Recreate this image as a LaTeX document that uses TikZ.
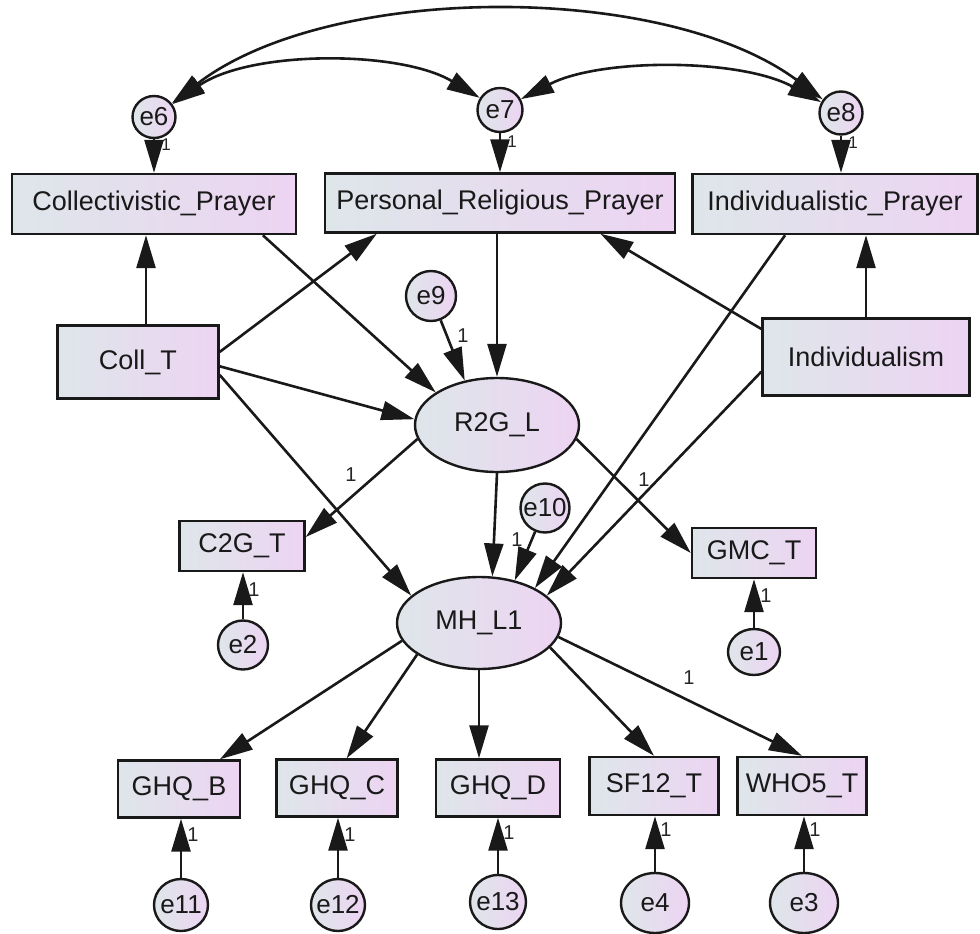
\documentclass[tikz,border=0pt]{standalone}
\usepackage{fontspec}
\setmainfont{Liberation Sans}
\usetikzlibrary{shapes.geometric,arrows.meta,calc}
\definecolor{gL}{RGB}{222,230,234}
\definecolor{gR}{RGB}{237,212,242}
\tikzset{
  fillgrad/.style={draw=black!90, line width=2.4pt, left color=gL, right color=gR, text=black!90},
  obs/.style={fillgrad, rectangle, inner sep=0pt, font=\fontsize{27}{30}\selectfont},
  lat/.style={fillgrad, ellipse, inner sep=0pt, font=\fontsize{27}{30}\selectfont},
  err/.style={fillgrad, ellipse, inner sep=-9pt, font=\fontsize{26}{30}\selectfont},
  arr/.style={line width=2.6pt, draw=black!90, -{Triangle[length=33pt,width=19pt]}},
  darr/.style={line width=2.6pt, draw=black!90, {Triangle[length=33pt,width=19pt]}-{Triangle[length=33pt,width=19pt]}},
  one/.style={font=\fontsize{20}{22}\selectfont, text=black!85, inner sep=0pt},
  ones/.style={font=\fontsize{17}{20}\selectfont, text=black!85, inner sep=0pt}
}
\begin{document}
\begin{tikzpicture}[x=1pt,y=-1pt]
\useasboundingbox (0,0) rectangle (980,934);
% observed boxes
\node[obs, minimum width=284pt, minimum height=60pt] (CP) at (154,204) {Collectivistic\_Prayer};
\node[obs, minimum width=350pt, minimum height=59pt] (PRP) at (500,203) {Personal\_Religious\_Prayer};
\node[obs, minimum width=285pt, minimum height=60pt] (IP) at (835,204) {Individualistic\_Prayer};
\node[obs, minimum width=161pt, minimum height=73pt] (CT) at (138,362) {Coll\_T};
\node[obs, minimum width=207pt, minimum height=77pt] (IND) at (866,357) {Individualism};
\node[obs, minimum width=125pt, minimum height=50pt] (C2G) at (242,546) {C2G\_T};
\node[obs, minimum width=124pt, minimum height=50pt] (GMC) at (754,553) {GMC\_T};
\node[obs, minimum width=122pt, minimum height=57pt] (GB) at (179,789) {GHQ\_B};
\node[obs, minimum width=121pt, minimum height=57pt] (GC) at (337,788) {GHQ\_C};
\node[obs, minimum width=124pt, minimum height=57pt] (GD) at (498,788) {GHQ\_D};
\node[obs, minimum width=129pt, minimum height=58pt] (SF) at (654,786) {SF12\_T};
\node[obs, minimum width=129pt, minimum height=58pt] (WHO) at (802,786) {WHO5\_T};
% latent
\node[lat, minimum width=164pt, minimum height=94pt] (R2G) at (497,425) {R2G\_L};
\node[lat, minimum width=164pt, minimum height=92pt] (MH) at (479,623) {MH\_L1};
% errors
\node[err, minimum width=43pt, minimum height=42pt] (e6) at (154,117) {e6};
\node[err, minimum width=45pt, minimum height=44pt] (e7) at (500,110) {e7};
\node[err, minimum width=43pt, minimum height=43pt] (e8) at (841,113) {e8};
\node[err, minimum width=50pt, minimum height=50pt] (e9) at (431,296) {e9};
\node[err, minimum width=49pt, minimum height=49pt] (e10) at (545,508) {e10};
\node[err, minimum width=50pt, minimum height=49pt] (e2) at (243,645) {e2};
\node[err, minimum width=52pt, minimum height=46pt] (e1) at (754,652) {e1};
\node[err, minimum width=54pt, minimum height=52pt] (e11) at (181,905) {e11};
\node[err, minimum width=54pt, minimum height=52pt] (e12) at (338,905) {e12};
\node[err, minimum width=56pt, minimum height=54pt] (e13) at (498,902) {e13};
\node[err, minimum width=68pt, minimum height=60pt] (e4) at (655,903) {e4};
\node[err, minimum width=68pt, minimum height=60pt] (e3) at (804,903) {e3};
\coordinate (cv) at (146,0);
% covariances
\draw[darr] (e6) .. controls (330,-18) and (665,-18) .. (e8);
\draw[darr] (e6) .. controls (250,50) and (400,50) .. (e7);
\draw[darr] (e7) .. controls (600,58) and (740,58) .. (e8);
% error arrows top
\draw[arr] (e6) -- (e6 |- CP.north);
\draw[arr] (e7) -- (e7 |- PRP.north);
\draw[arr] (e8) -- (e8 |- IP.north);
% structural paths
\draw[arr] (cv |- CT.north) -- (cv |- CP.south);
\draw[arr] (IND.north) -- (IND.north |- IP.south);
\draw[arr] (CT.7) -- (PRP.194);
\draw[arr] (CT.-3) -- (R2G.176);
\draw[arr] (CT.-9) -- (MH.158);
\draw[arr] (CP.-16) -- (R2G.152);
\draw[arr] (R2G.north |- PRP.south) -- (R2G.north);
\draw[arr] (e9) -- (R2G.126);
\draw[arr] (IND.165) -- (PRP.-17);
\draw[arr] (IP.212) -- (MH.32);
\draw[arr] (IND.188) -- (MH.22);
\draw[arr] (R2G.190) -- (C2G.8);
\draw[arr] (R2G.south) -- (MH.74);
\draw[arr] (R2G.-10) -- (GMC.west);
\draw[arr] (e10) -- (MH.50);
\draw[arr] (e2) -- (e2 |- C2G.south);
\draw[arr] (e1) -- (e1 |- GMC.south);
\draw[arr] (MH.193) -- (GB.36);
\draw[arr] (MH.207) -- (GC.72);
\draw[arr] (MH.south) -- (MH.south |- GD.north);
\draw[arr] (MH.-19) -- (SF.north);
\draw[arr] (MH.-10) -- (WHO.north);
\draw[arr] (e11) -- (e11 |- GB.south);
\draw[arr] (e12) -- (e12 |- GC.south);
\draw[arr] (e13) -- (e13 |- GD.south);
\draw[arr] (e4) -- (e4 |- SF.south);
\draw[arr] (e3) -- (e3 |- WHO.south);
% labels
\node[ones] (l6) at (166,145) {1};
\node[ones] (l7) at (512,142) {1};
\node[ones] (l8) at (853,143) {1};
\node[one] (l9) at (463,336) {1};
\node[one] (lc2g) at (351,475) {1};
\node[one] (lgmc) at (644,480) {1};
\node[one] (l10) at (517,540) {1};
\node[one] (l2) at (254,590) {1};
\node[one] (l1) at (766,596) {1};
\node[one] (lwho) at (689,678) {1};
\node[one] (l11) at (193,835) {1};
\node[one] (l12) at (350,835) {1};
\node[one] (l13) at (509,833) {1};
\node[one] (l4) at (666,830) {1};
\node[one] (l3) at (815,830) {1};
\end{tikzpicture}
\end{document}
